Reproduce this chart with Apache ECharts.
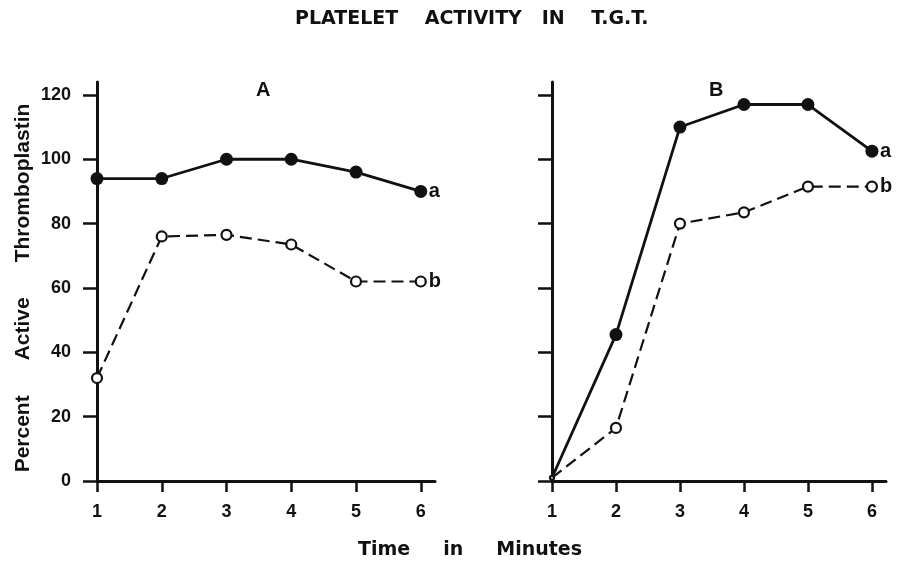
<!DOCTYPE html>
<html>
<head>
<meta charset="utf-8">
<style>
    html, body { margin: 0; padding: 0; background: #fff; }
    #chart { width: 898px; height: 563px; }
</style>
<script src="https://cdn.jsdelivr.net/npm/echarts@6/dist/echarts.min.js"></script>
</head>
<body>
<div id="chart"></div>
<script>
// time points (minutes)
var minutes = [1, 2, 3, 4, 5, 6];
// y ticks
var yTicks = [0, 20, 40, 60, 80, 100, 120];
// panel A
var panelA_a = [94, 94, 100, 100, 96, 90];
var panelA_b = [32, 76, 76.5, 73.5, 62, 62];
// panel B
var panelB_a = [1, 45.5, 110, 117, 117, 102.5];
var panelB_b = [1, 16.5, 80, 83.5, 91.5, 91.5];

var ink = '#111';
var font = '"Liberation Sans", Arial, sans-serif';

function pairs(vals) {
    return minutes.map(function (m, i) { return [m, vals[i]]; });
}

// default axis settings
function xAxisFor(idx) {
    return {
        gridIndex: idx,
        type: 'value',
        min: 1,
        max: 6.22,
        axisLine: { lineStyle: { color: ink, width: 3 } },
        axisTick: { customValues: minutes, length: 11, lineStyle: { color: ink, width: 2.5 } },
        axisLabel: { customValues: minutes, color: ink, fontFamily: font, fontWeight: 'bold', fontSize: 18, margin: 22 },
        splitLine: { show: false }
    };
}
function yAxisFor(idx, labels) {
    return {
        gridIndex: idx,
        type: 'value',
        min: 0,
        max: 124,
        axisLine: { show: true, lineStyle: { color: ink, width: 3 } },
        axisTick: { show: true, customValues: yTicks, length: 14, lineStyle: { color: ink, width: 2.5 } },
        axisLabel: { show: labels, customValues: yTicks, color: ink, fontFamily: font, fontWeight: 'bold', fontSize: 18, margin: 26 },
        splitLine: { show: false }
    };
}

function solid(idx, vals, firstSmall) {
    return {
        type: 'line',
        xAxisIndex: idx,
        yAxisIndex: idx,
        data: pairs(vals),
        symbol: 'circle',
        symbolSize: function (v, p) { return (firstSmall && p.dataIndex === 0) ? 5 : 13; },
        lineStyle: { color: ink, width: 2.8 },
        itemStyle: { color: ink },
        endLabel: { show: true, formatter: 'a', color: ink, fontFamily: font, fontWeight: 'bold', fontSize: 20, distance: 8 },
        animation: false,
        z: 3
    };
}
function dashed(idx, vals, firstSmall) {
    return {
        type: 'line',
        xAxisIndex: idx,
        yAxisIndex: idx,
        data: pairs(vals),
        symbol: 'circle',
        symbolSize: function (v, p) { return (firstSmall && p.dataIndex === 0) ? 4 : 10; },
        lineStyle: { color: ink, width: 2.2, type: [12, 6] },
        itemStyle: { color: '#fff', borderColor: ink, borderWidth: 2.2 },
        endLabel: { show: true, formatter: 'b', color: ink, fontFamily: font, fontWeight: 'bold', fontSize: 20, distance: 8 },
        animation: false,
        z: 4
    };
}

var chart = echarts.init(document.getElementById('chart'));
var option = {
    backgroundColor: '#fff',
    animation: false,
    title: [
        { text: 'PLATELET    ACTIVITY   IN    T.G.T.', left: 290, top: 5,
          textStyle: { fontFamily: 'DejaVu Sans', fontWeight: 'bold', fontSize: 19, color: ink } },
        { text: 'A', left: 251, top: 75, textStyle: { fontFamily: font, fontWeight: 'bold', fontSize: 20, color: ink } },
        { text: 'B', left: 704, top: 75, textStyle: { fontFamily: font, fontWeight: 'bold', fontSize: 20, color: ink } }
    ],
    grid: [
        { left: 97, top: 82, width: 338, height: 399 },
        { left: 552, top: 82, width: 334, height: 399 }
    ],
    xAxis: [xAxisFor(0), xAxisFor(1)],
    yAxis: [yAxisFor(0, true), yAxisFor(1, false)],
    graphic: [
        {
            type: 'text', x: 23, y: 288, rotation: Math.PI / 2,
            style: { text: 'Percent      Active      Thromboplastin', fill: ink, font: 'bold 21px "Liberation Sans", Arial, sans-serif',
                     textAlign: 'center', textVerticalAlign: 'middle' }
        },
        {
            type: 'text', x: 470, y: 550,
            style: { text: 'Time     in     Minutes', fill: ink, font: 'bold 19px "DejaVu Sans"',
                     textAlign: 'center', textVerticalAlign: 'middle' }
        }
    ],
    series: [
        solid(0, panelA_a, false),
        dashed(0, panelA_b, false),
        solid(1, panelB_a, true),
        dashed(1, panelB_b, true)
    ]
};
chart.setOption(option);
</script>
</body>
</html>
